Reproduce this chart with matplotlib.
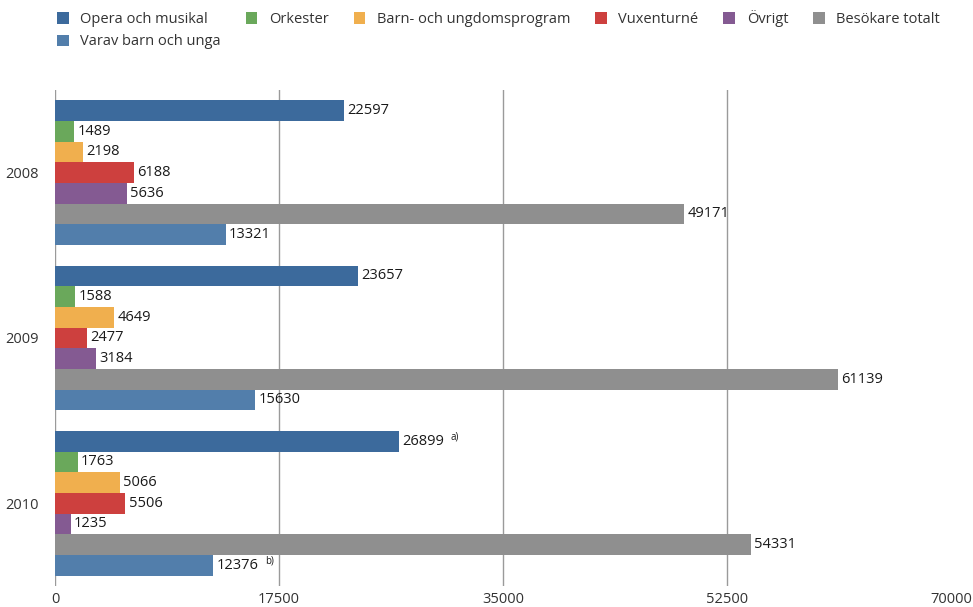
import matplotlib.pyplot as plt
from matplotlib.patches import Patch

plt.rcParams['font.family'] = ['Open Sans', 'DejaVu Sans']

years = ['2008', '2009', '2010']
series = ['Opera och musikal', 'Orkester', 'Barn- och ungdomsprogram',
          'Vuxenturné', 'Övrigt', 'Besökare totalt', 'Varav barn och unga']
colors = ['#3C6A9C', '#6AA85B', '#F0AF4E', '#CD403E', '#845A92', '#8F8F8F', '#527EAB']

opera = [22597, 23657, 26899]
orkester = [1489, 1588, 1763]
barn = [2198, 4649, 5066]
vuxen = [6188, 2477, 5506]
ovrigt = [5636, 3184, 1235]
totalt = [49171, 61139, 54331]
varav = [13321, 15630, 12376]
values = [opera, orkester, barn, vuxen, ovrigt, totalt, varav]

# footnote marks on a few bars: (series index, year index) -> text
notes = {(0, 2): 'a)', (6, 2): 'b)'}

fig = plt.figure(figsize=(9.73, 6.07), dpi=100)
ax = fig.add_axes([0.0565, 0.0346, 0.921, 0.8174])

for j, (name, vals, c) in enumerate(zip(series, values, colors)):
    ys = [i * 8 + j for i in range(len(years))]
    ax.barh(ys, vals, height=1.0, color=c, zorder=3)
    for i, (y, v) in enumerate(zip(ys, vals)):
        ax.text(v + 250, y, str(v), va='center', ha='left', fontsize=10.5,
                color='#1a1a1a', zorder=4)
        if (j, i) in notes:
            ax.annotate(notes[(j, i)], (v, y), xytext=(37, 3), textcoords='offset points',
                        fontsize=7, va='center', ha='left', color='#1a1a1a')

ax.set_xlim(0, 70000)
ax.set_ylim(23, -1)
ax.set_xticks([0, 17500, 35000, 52500, 70000])
ax.set_yticks([i * 8 + 3 for i in range(len(years))])
ax.set_yticklabels(years)
ax.tick_params(axis='both', length=0, labelsize=10.5, labelcolor='#333333')
ax.tick_params(axis='x', pad=4)
ax.tick_params(axis='y', pad=12)
for s in ax.spines.values():
    s.set_visible(False)
for xv in [0, 17500, 35000, 52500]:
    ax.axvline(xv, color='#9a9a9a', lw=1, zorder=1)

handles = [Patch(facecolor=c) for c in colors]
order = [0, 6, 1, 2, 3, 4, 5]
fig.legend([handles[k] for k in order], [series[k] for k in order],
           loc='upper left', bbox_to_anchor=(0.045, 1.005), ncol=6, frameon=False,
           fontsize=10.5, handlelength=0.8, handleheight=0.8, handletextpad=0.8,
           columnspacing=1.7, labelspacing=0.5, labelcolor='#333333')

fig.savefig('out.png', dpi=100)
